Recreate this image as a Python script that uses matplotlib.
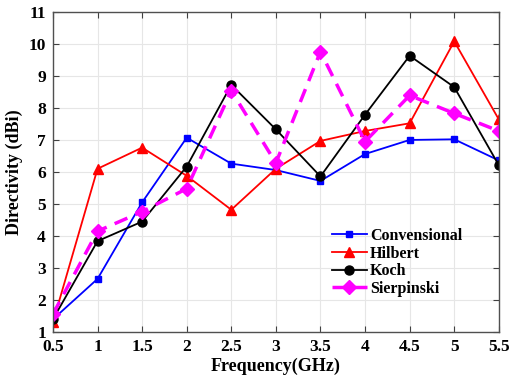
import matplotlib.pyplot as plt
import numpy as np

# 频率 (GHz)
freq = [0.5, 1, 1.5, 2, 2.5, 3, 3.5, 4, 4.5, 5, 5.5]

# 各天线的方向性 (dBi)
conv = [1.40, 2.66, 5.05, 7.07, 6.26, 6.06, 5.72, 6.56, 7.00, 7.02, 6.36]
hilbert = [1.30, 6.10, 6.76, 5.88, 4.82, 6.10, 6.97, 7.28, 7.52, 10.08, 7.64]
koch = [1.40, 3.84, 4.45, 6.17, 8.72, 7.33, 5.86, 7.79, 9.63, 8.65, 6.21]
sierp = [1.56, 4.15, 4.76, 5.48, 8.54, 6.28, 9.76, 6.95, 8.39, 7.83, 7.28]

plt.rcParams['font.family'] = ['Liberation Serif', 'DejaVu Serif']
plt.rcParams['font.weight'] = 'bold'

fig = plt.figure(figsize=(5.09, 3.83), dpi=100)
ax = fig.add_axes([0.104, 0.133, 0.876, 0.836])

ax.plot(freq, conv, '-s', color='blue', lw=1.3, ms=5, label='Convensional')
ax.plot(freq, hilbert, '-^', color='red', lw=1.3, ms=7, label='Hilbert')
ax.plot(freq, koch, '-o', color='black', lw=1.3, ms=6.5, label='Koch')
ax.plot(freq, sierp, '--D', color='magenta', lw=2.5, ms=7, dashes=(4, 2.5), label='Sierpinski')

ax.set_xlim(0.5, 5.5)
ax.set_ylim(1, 11)
ax.set_xticks(freq)
ax.set_xticklabels(['0.5', '1', '1.5', '2', '2.5', '3', '3.5', '4', '4.5', '5', '5.5'])
ax.set_yticks(range(1, 12))
ax.tick_params(direction='in', top=True, right=True, labelsize=12.5, length=4,
               color='#404040', pad=5)
for lab in ax.get_xticklabels() + ax.get_yticklabels():
    lab.set_fontweight('bold')
ax.grid(True, color='#e6e6e6', lw=0.8)
ax.set_axisbelow(True)
for s in ax.spines.values():
    s.set_color('#505050')
    s.set_linewidth(1.0)

ax.set_xlabel('Frequency(GHz)', fontsize=13, fontweight='bold', labelpad=2)
ax.set_ylabel('Directivity (dBi)', fontsize=13, fontweight='bold', labelpad=4)

leg = ax.legend(loc='upper left', bbox_to_anchor=(0.6, 0.36), frameon=False,
                fontsize=11.5, handlelength=2.2, handletextpad=0.2,
                labelspacing=0.1, borderpad=0.2)
for t in leg.get_texts():
    t.set_fontweight('bold')

fig.savefig('out.png', dpi=100)
